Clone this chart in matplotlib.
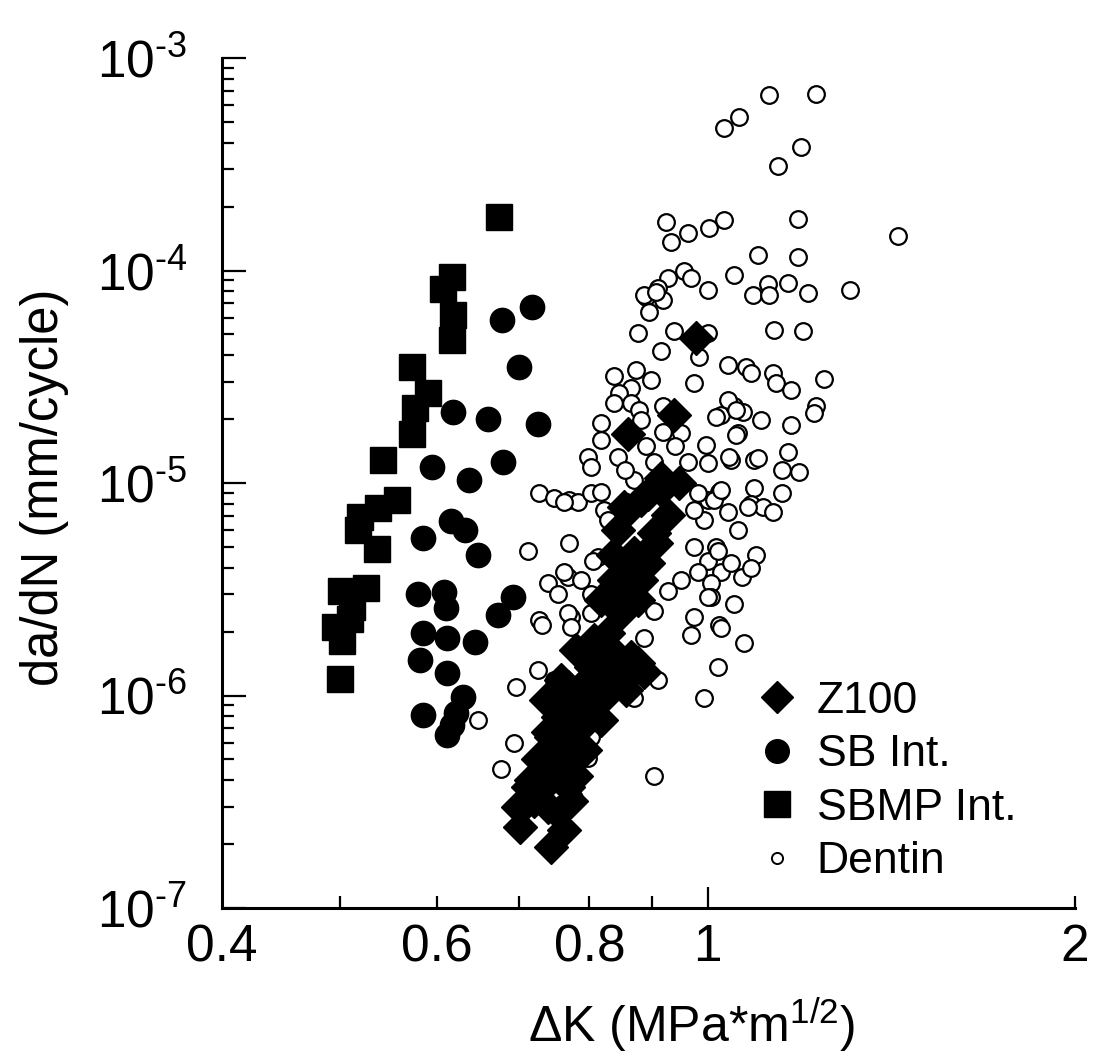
import numpy as np
import matplotlib
matplotlib.use("Agg")
import matplotlib.pyplot as plt
from matplotlib.lines import Line2D
from matplotlib import font_manager

plt.rcParams['font.family'] = ['Liberation Sans', 'DejaVu Sans']
plt.rcParams['mathtext.fontset'] = 'custom'
plt.rcParams['mathtext.rm'] = 'Liberation Sans'
plt.rcParams['mathtext.it'] = 'Liberation Sans:italic'
plt.rcParams['mathtext.default'] = 'regular'

# ---------------- data ----------------
z100_dk = [0.978, 0.938, 0.860, 0.947, 0.916, 0.893, 0.928, 0.860, 0.844, 0.904,
           0.870, 0.893, 0.860, 0.838, 0.854, 0.877, 0.849, 0.828, 0.807, 0.828,
           0.865, 0.887, 0.877, 0.849, 0.838, 0.854, 0.828, 0.802, 0.787, 0.822,
           0.802, 0.768, 0.762, 0.798, 0.754, 0.787, 0.777, 0.754, 0.744, 0.740,
           0.762, 0.777, 0.726, 0.730, 0.754, 0.768, 0.712, 0.716, 0.740, 0.754,
           0.699, 0.712, 0.740, 0.702, 0.744, 0.818, 0.783, 0.773, 0.720, 0.759,
           0.798, 0.841, 0.916, 0.882, 0.836, 0.882, 0.907, 0.817, 0.857, 0.817,
           0.857, 0.817, 0.794, 0.780, 0.773, 0.762, 0.780, 0.758, 0.737]
z100_rate = [4.8e-5, 2.1e-5, 1.7e-5, 1.0e-5, 1.055e-5, 8.9e-6, 7.1e-6, 7.5e-6, 6.0e-6, 5.8e-6,
             4.7e-6, 4.2e-6, 3.9e-6, 3.5e-6, 7.7e-6, 2.8e-6, 2.45e-6, 1.97e-6, 1.82e-6, 1.69e-6,
             1.52e-6, 1.29e-6, 1.42e-6, 1.25e-6, 1.52e-6, 1.18e-6, 1.03e-6, 1.36e-6, 1.1e-6, 1.06e-6,
             8.8e-7, 1.1e-6, 9.5e-7, 8.8e-7, 8.5e-7, 7.1e-7, 7.1e-7, 7.9e-7, 6.4e-7, 6.7e-7,
             5.7e-7, 5.1e-7, 5.0e-7, 5.1e-7, 4.6e-7, 3.7e-7, 3.7e-7, 4.0e-7, 3.9e-7, 2.8e-7,
             3.0e-7, 3.2e-7, 3.0e-7, 2.4e-7, 1.94e-7, 1.47e-6, 9.5e-7, 5.85e-7, 3.2e-7, 7.1e-7,
             1.18e-6, 1.39e-6, 9.27e-6, 8.3e-6, 4.6e-6, 3.5e-6, 5.2e-6, 2.8e-6, 2.95e-6, 1.73e-6,
             1.06e-6, 7.7e-7, 5.55e-7, 4.2e-7, 3.2e-7, 2.33e-7, 1.64e-6, 1.18e-6, 9.5e-7]

sb_dk = [0.679, 0.718, 0.700, 0.618, 0.661, 0.726, 0.680, 0.595, 0.637, 0.585,
         0.616, 0.633, 0.648, 0.579, 0.608, 0.610, 0.692, 0.673, 0.585, 0.581,
         0.612, 0.645, 0.612, 0.585, 0.630, 0.622, 0.612, 0.617]
sb_rate = [5.85e-5, 6.7e-5, 3.5e-5, 2.16e-5, 2.0e-5, 1.9e-5, 1.25e-5, 1.19e-5, 1.03e-5, 5.5e-6,
           6.6e-6, 6.0e-6, 4.6e-6, 3.0e-6, 3.07e-6, 2.58e-6, 2.9e-6, 2.4e-6, 1.97e-6, 1.47e-6,
           1.87e-6, 1.79e-6, 1.28e-6, 8.1e-7, 9.8e-7, 8.3e-7, 6.5e-7, 7.3e-7]

sbmp_dk = [0.674, 0.617, 0.607, 0.618, 0.617, 0.573, 0.590, 0.576, 0.573, 0.542,
           0.556, 0.537, 0.519, 0.517, 0.536, 0.501, 0.525, 0.495, 0.502, 0.509,
           0.500, 0.511]
sbmp_rate = [1.79e-4, 9.3e-5, 8.2e-5, 6.2e-5, 4.7e-5, 3.5e-5, 2.65e-5, 2.25e-5, 1.7e-5, 1.28e-5,
             8.3e-6, 7.6e-6, 6.9e-6, 6.0e-6, 4.9e-6, 3.1e-6, 3.2e-6, 2.1e-6, 1.8e-6, 2.3e-6,
             1.2e-6, 2.6e-6]

dentin_dk = [1.123, 1.228, 1.061, 1.032, 1.193, 1.143, 0.924, 0.933, 0.964, 1.003,
             1.032, 1.186, 1.431, 1.100, 1.186, 0.956, 0.969, 0.928, 0.910, 0.890,
             0.895, 0.919, 1.000, 1.051, 1.121, 1.090, 1.123, 1.164, 1.209, 1.307,
             0.877, 0.938, 1.000, 1.134, 1.198, 0.887, 0.907, 0.916, 0.984, 1.040,
             1.075, 0.975, 0.838, 0.873, 0.899, 0.865, 0.846, 0.838, 0.865, 0.878,
             0.919, 1.026, 1.051, 1.069, 0.817, 0.919, 0.951, 1.059, 0.798, 0.802,
             0.844, 0.904, 0.964, 1.000, 1.046, 1.092, 1.085, 1.131, 1.137, 1.246,
             1.228, 1.223, 1.040, 1.016, 1.055, 1.170, 1.055, 1.042, 1.100, 1.164,
             1.188, 1.022, 1.092, 1.085, 1.150, 1.040, 1.111, 1.131, 1.059, 1.016,
             1.096, 1.000, 1.026, 1.007, 1.067, 1.007, 1.051, 1.022, 1.000, 0.993,
             0.975, 0.982, 1.013, 1.026, 1.079, 0.870, 0.728, 0.749, 0.770, 0.783,
             0.802, 0.817, 0.822, 0.828, 0.712, 0.770, 0.813, 0.975, 1.019, 0.951,
             0.982, 1.000, 0.768, 0.740, 0.754, 0.787, 0.802, 1.046, 1.085, 0.928,
             0.904, 0.802, 0.773, 0.728, 0.975, 0.762, 0.806, 0.762, 0.768, 0.773,
             0.731, 0.726, 0.696, 0.749, 0.648, 0.694, 0.677, 0.798, 0.802, 0.798,
             0.777, 0.887, 0.970, 1.026, 1.071, 0.910, 0.870, 1.019, 0.993, 0.904,
             0.882, 0.817, 0.890, 0.940, 0.856, 0.997, 1.106, 1.150, 1.170]
dentin_rate = [6.7e-4, 6.8e-4, 5.3e-4, 4.7e-4, 3.8e-4, 3.1e-4, 1.69e-4, 1.36e-4, 1.5e-4, 1.58e-4,
               1.73e-4, 1.75e-4, 1.45e-4, 1.18e-4, 1.16e-4, 1.0e-4, 9.2e-5, 9.2e-5, 8.3e-5, 7.5e-5,
               6.4e-5, 7.3e-5, 8.1e-5, 9.5e-5, 8.6e-5, 7.7e-5, 7.7e-5, 8.7e-5, 7.8e-5, 8.1e-5,
               5.1e-5, 5.2e-5, 5.1e-5, 5.25e-5, 5.2e-5, 7.7e-5, 7.9e-5, 4.2e-5, 3.9e-5, 3.6e-5,
               3.5e-5, 2.95e-5, 3.2e-5, 3.4e-5, 3.05e-5, 2.8e-5, 2.65e-5, 2.38e-5, 2.38e-5, 2.2e-5,
               2.3e-5, 2.1e-5, 2.3e-5, 2.16e-5, 1.92e-5, 1.74e-5, 1.72e-5, 1.72e-5, 1.33e-5, 1.19e-5,
               1.33e-5, 1.25e-5, 1.25e-5, 1.24e-5, 1.28e-5, 1.28e-5, 3.3e-5, 3.29e-5, 2.95e-5, 3.1e-5,
               2.3e-5, 2.14e-5, 2.46e-5, 2.05e-5, 2.2e-5, 1.87e-5, 1.68e-5, 1.33e-5, 1.31e-5, 1.4e-5,
               1.13e-5, 9.1e-6, 9.5e-6, 8.0e-6, 9.0e-6, 7.3e-6, 7.7e-6, 7.3e-6, 6.0e-6, 5.0e-6,
               4.6e-6, 4.3e-6, 3.8e-6, 3.4e-6, 3.6e-6, 2.9e-6, 2.7e-6, 2.15e-6, 8.3e-6, 6.7e-6,
               7.5e-6, 9.0e-6, 8.3e-6, 9.3e-6, 7.7e-6, 1.03e-5, 9.0e-6, 8.5e-6, 8.3e-6, 8.1e-6,
               9.0e-6, 9.1e-6, 7.5e-6, 6.7e-6, 4.8e-6, 5.2e-6, 4.5e-6, 5.0e-6, 4.8e-6, 3.5e-6,
               3.8e-6, 2.9e-6, 3.6e-6, 3.4e-6, 3.0e-6, 3.5e-6, 3.0e-6, 4.2e-6, 4.0e-6, 3.1e-6,
               2.5e-6, 2.45e-6, 2.35e-6, 2.27e-6, 2.35e-6, 8.1e-6, 4.3e-6, 3.8e-6, 2.45e-6, 2.1e-6,
               2.15e-6, 1.32e-6, 1.1e-6, 1.18e-6, 7.7e-7, 6.0e-7, 4.5e-7, 1.77e-6, 6.4e-7, 5.1e-7,
               3.3e-7, 1.87e-6, 1.93e-6, 2.08e-6, 1.77e-6, 1.18e-6, 9.7e-7, 1.36e-6, 9.7e-7, 4.2e-7,
               1.98e-5, 1.59e-5, 1.5e-5, 1.5e-5, 1.15e-5, 1.51e-5, 1.98e-5, 1.15e-5, 2.74e-5]

series_labels = ['Z100', 'SB Int.', 'SBMP Int.', 'Dentin']
x_tick_values = [0.4, 0.6, 0.8, 1, 2]
x_tick_labels = ['0.4', '0.6', '0.8', '1', '2']
x_minor_values = [0.5, 0.7, 0.9]
y_decades = [1e-7, 1e-6, 1e-5, 1e-4, 1e-3]
y_tick_labels = ['$10^{\u20107}$', '$10^{\u20106}$', '$10^{\u20105}$', '$10^{\u20104}$',
                 '$10^{\u20103}$']

# ---------------- figure ----------------
W, H = 1100, 1064
fig = plt.figure(figsize=(W / 100, H / 100), dpi=100)
ax = fig.add_axes([222 / W, 1 - 908 / H, (1075 - 222) / W, (908 - 58) / H])
ax.set_xscale('log')
ax.set_yscale('log')
ax.set_xlim(0.4, 2)
ax.set_ylim(1e-7, 1e-3)

ax.plot(dentin_dk, dentin_rate, ls='none', marker='o', ms=12, mfc='white',
        mec='black', mew=1.6, zorder=2)
ax.plot(z100_dk, z100_rate, ls='none', marker='D', ms=17, color='black', mec='black', zorder=3)
ax.plot(sb_dk, sb_rate, ls='none', marker='o', ms=17.5, color='black', zorder=3)
ax.plot(sbmp_dk, sbmp_rate, ls='none', marker='s', ms=18.5, color='black', zorder=3)

# spines
for s in ['top', 'right']:
    ax.spines[s].set_visible(False)
for s in ['left', 'bottom']:
    ax.spines[s].set_linewidth(2.2)

# x ticks
ax.set_xticks(x_tick_values)
ax.set_xticklabels(x_tick_labels)
ax.set_xticks(x_minor_values, minor=True)
ax.xaxis.set_minor_formatter(plt.NullFormatter())
ax.tick_params(axis='x', which='both', direction='in', length=8.5, width=1.6,
               labelsize=37, pad=11)
for tk, v in zip(ax.xaxis.get_major_ticks(), x_tick_values):
    if v == 1:
        tk.tick1line.set_markersize(15)
    if v == 0.4:
        tk.tick1line.set_markersize(0)

# y ticks
ax.set_yticks(y_decades)
ax.set_yticklabels(y_tick_labels)
y_minor = [m * d for d in y_decades[:-1] for m in range(2, 10)]
ax.set_yticks(y_minor, minor=True)
ax.yaxis.set_minor_formatter(plt.NullFormatter())
ax.tick_params(axis='y', which='major', direction='in', length=17, width=1.6,
               labelsize=37, pad=25)
ax.tick_params(axis='y', which='minor', direction='in', length=8.5, width=1.6)

# labels
fig.text(692 / W, 1 - 1025 / H, 'ΔK (MPa*m$^{1/2}$)', ha='center', va='center',
         fontsize=36)
fig.text(45 / W, 1 - 487 / H, 'da/dN (mm/cycle)', rotation=90, ha='center', va='center',
         fontsize=36.5)

# legend
handles = [
    Line2D([], [], ls='none', marker='D', ms=16, color='black'),
    Line2D([], [], ls='none', marker='o', ms=17, color='black'),
    Line2D([], [], ls='none', marker='s', ms=18.5, color='black'),
    Line2D([], [], ls='none', marker='o', ms=8, mfc='white', mec='black', mew=1.4),
]
leg = ax.legend(handles, series_labels, loc='upper left', bbox_to_anchor=(750 / W, 1 - 681 / H),
                bbox_transform=fig.transFigure, frameon=False, borderpad=0, borderaxespad=0,
                handlelength=1.2, handletextpad=0.3, labelspacing=0.28, numpoints=1,
                prop=font_manager.FontProperties(size=32))

fig.savefig('out.png', dpi=100)
